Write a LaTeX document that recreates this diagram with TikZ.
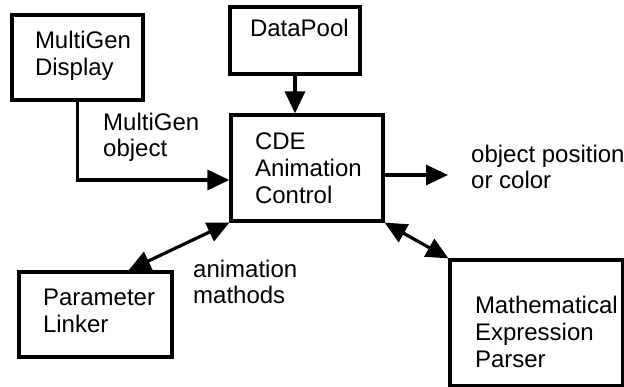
\documentclass[tikz,border=0pt]{standalone}
\usepackage{fontspec}
\setmainfont{Liberation Sans}
\usetikzlibrary{arrows.meta}
\begin{document}
\begin{tikzpicture}[x=1pt,y=-1pt,
  box/.style={draw, line width=3.2pt, align=left, font=\fontsize{24}{27}\selectfont, inner sep=0pt},
  lbl/.style={align=left, font=\fontsize{24}{26}\selectfont, inner sep=0pt, anchor=north west},
  conn/.style={line width=3.2pt, -{Triangle[length=22pt,width=20pt]}},
  both/.style={line width=3.2pt, {Triangle[length=22pt,width=20pt]}-{Triangle[length=22pt,width=20pt]}}]
\useasboundingbox (0,0) rectangle (624,387);

\node[box, minimum width=131pt, minimum height=85pt, text width=85pt] (mg) at (77.5,57.5) {\mbox{MultiGen}\\\mbox{Display}\rule[-8pt]{0pt}{8pt}};
\node[box, minimum width=130pt, minimum height=67pt, text width=90pt, text height=17pt, text depth=24pt] (dp) at (295,40.5) {\mbox{DataPool}};
\node[box, minimum width=152pt, minimum height=106pt, text width=104pt] (cde) at (307,168) {\mbox{CDE}\\\mbox{Animation}\\\mbox{Control}};
\node[box, minimum width=153pt, minimum height=85pt, text width=105pt] (pl) at (95.5,314.5) {\mbox{Parameter}\\\mbox{Linker}\rule[-8pt]{0pt}{8pt}};
\node[box, minimum width=173pt, minimum height=126pt, text width=123pt] (mp) at (536.5,323) {\rule{0pt}{35pt}\mbox{Mathematical}\\\mbox{Expression}\\\mbox{Parser}};

\node[lbl] (l1) at (103,113) {MultiGen\\object};
\node[lbl] (l2) at (471,145) {object position\\or color};
\node[lbl] (l3) at (193,260) {animation\\mathods};

\coordinate (mgin) at (0,180);
\coordinate (outend) at (448,175);

\draw[conn] (dp.south) -- (dp.south |- cde.north);
\draw[conn] (mg.south) |- (cde.west |- mgin);
\draw[conn] (cde.east |- outend) -- (outend);
\draw[both] (cde.south west) -- ([xshift=33pt]pl.north);
\draw[both] (cde.south east) -- (mp.north west);
\end{tikzpicture}
\end{document}
